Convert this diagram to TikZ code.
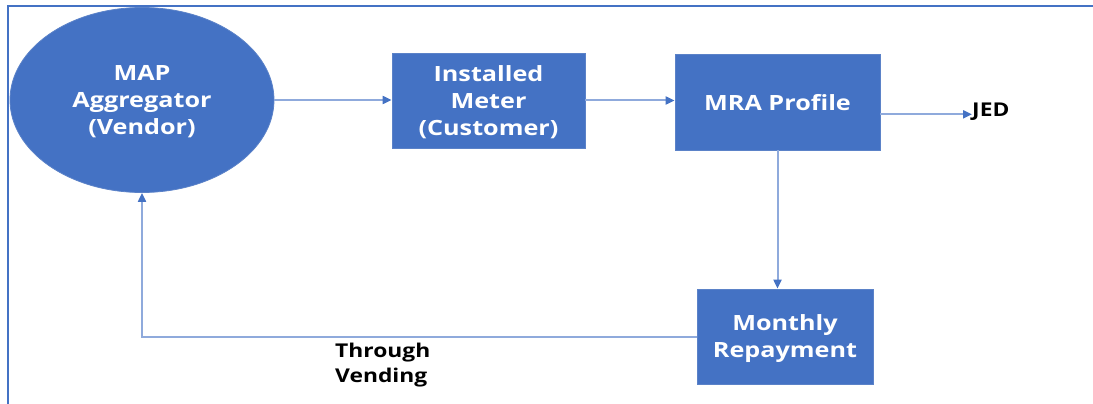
\documentclass[tikz,border=0pt]{standalone}
\usepackage{fontspec}
\setmainfont{Open Sans}[FakeStretch=1.2]
\usetikzlibrary{shapes.geometric,arrows.meta}
\definecolor{boxblue}{HTML}{4472C4}
\definecolor{boxedge}{HTML}{5B82C8}
\definecolor{linkblue}{HTML}{8FAADC}
\tikzset{
  blk/.style={fill=boxblue, draw=boxedge, line width=0.8pt, text=white, font=\bfseries\fontsize{21}{27}\selectfont, align=center, inner sep=0pt, text depth=0pt},
  conn/.style={draw=linkblue, line width=2pt, -{Triangle[length=9pt,width=8pt,fill=boxblue,color=boxblue]}},
  frame/.style={draw=boxblue, line width=2.4pt},
  lbl/.style={text=black, font=\bfseries\fontsize{19}{24.5}\selectfont, inner sep=0pt}
}
\begin{document}
\begin{tikzpicture}[x=1pt,y=-1pt]
\useasboundingbox (0,0) rectangle (1093,404);
\coordinate (ftop) at (1093,6);
\coordinate (fcorner) at (8,6);
\coordinate (fbot) at (8,404);
\draw[frame] (ftop) -- (fcorner) -- (fbot);
\node[blk, ellipse, minimum width=264pt, minimum height=185pt] (map) at (142,100) {MAP\\Aggregator\\(Vendor)};
\node[blk, rectangle, minimum width=193pt, minimum height=95pt] (meter) at (488.5,100.5) {Installed\\Meter\\(Customer)};
\node[blk, rectangle, minimum width=205pt, minimum height=96pt] (mra) at (777.5,102) {MRA Profile};
\node[blk, rectangle, minimum width=176pt, minimum height=95pt] (repay) at (785,336.5) {Monthly\\Repayment};
\node[lbl, anchor=base west] (jed) at (972,117) {JED};
\node[lbl, anchor=north west, align=left] (vend) at (335,343) {Through\\Vending};
\draw[conn] (map.east) -- (map.east -| meter.west);
\draw[conn] (meter.east) -- (meter.east -| mra.west);
\draw[conn] (mra.east |- jed.mid west) -- (jed.mid west);
\draw[conn] (mra.south) -- (mra.south |- repay.north);
\draw[conn] (repay.west) -| (map.south);
\end{tikzpicture}
\end{document}
